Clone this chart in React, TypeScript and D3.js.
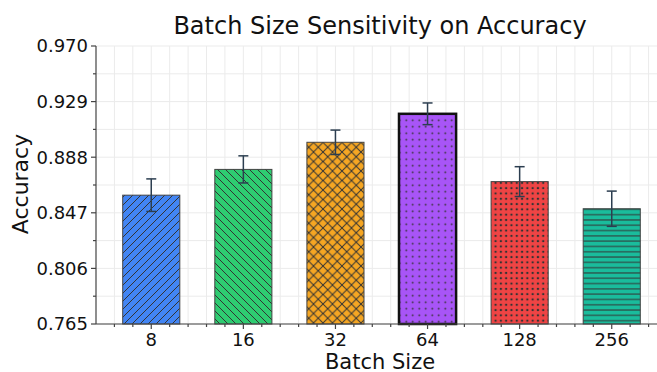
import React, { useEffect, useRef } from 'react';
import * as d3 from 'd3';

const batchSizes = ['8', '16', '32', '64', '128', '256'];
const accuracy = [0.860, 0.879, 0.899, 0.920, 0.870, 0.850];
const errors = [0.012, 0.010, 0.009, 0.008, 0.011, 0.013];
const colors = ['#4285f4', '#2ecc71', '#f5a623', '#a855f7', '#ef4444', '#1abc9c'];
const hatches = ['fwd', 'back', 'cross', 'smalldot', 'bigdot', 'horiz'];
const yTicks = [0.765, 0.806, 0.847, 0.888, 0.929, 0.970];

const W = 657;
const H = 372;
const FONT = 'DejaVu Sans, sans-serif';

const App = () => {
  const svgRef = useRef<SVGSVGElement>(null);

  useEffect(() => {
    const svg = d3.select(svgRef.current);
    svg.selectAll('*').remove();

    const left = 96, right = 667, top = 46, bottom = 324;
    const x = d3.scaleLinear().domain([-0.6, 5.6]).range([left, right]);
    const y = d3.scaleLinear().domain([0.765, 0.970]).range([bottom, top]);

    const defs = svg.append('defs');
    const ink = '#333';
    const pat = (id: string, size: number) =>
      defs.append('pattern').attr('id', id).attr('patternUnits', 'userSpaceOnUse')
        .attr('width', size).attr('height', size);

    pat('fwd', 8).call(p => {
      p.append('path').attr('d', 'M-2,2 L2,-2 M0,8 L8,0 M6,10 L10,6')
        .attr('stroke', ink).attr('stroke-width', 1);
    });
    pat('back', 8).call(p => {
      p.append('path').attr('d', 'M-2,6 L2,10 M0,0 L8,8 M6,-2 L10,2')
        .attr('stroke', ink).attr('stroke-width', 1);
    });
    pat('cross', 9.5).call(p => {
      p.append('path').attr('d', 'M0,0 L9.5,9.5 M9.5,0 L0,9.5')
        .attr('stroke', ink).attr('stroke-width', 1);
    });
    pat('smalldot', 6.5).call(p => {
      p.append('circle').attr('cx', 3.25).attr('cy', 3.25).attr('r', 0.9).attr('fill', ink);
    });
    pat('bigdot', 5.3).call(p => {
      p.append('circle').attr('cx', 2.65).attr('cy', 2.65).attr('r', 1.2).attr('fill', ink);
    });
    pat('horiz', 5.3).call(p => {
      p.append('path').attr('d', 'M0,2.65 L5.3,2.65').attr('stroke', ink).attr('stroke-width', 1);
    });

    // grid
    const grid = svg.append('g').attr('stroke', '#ebebeb').attr('stroke-width', 1);
    const xMinor = d3.range(-2, 29).map(i => i * 0.2);
    xMinor.forEach(v => {
      grid.append('line').attr('x1', x(v)).attr('x2', x(v)).attr('y1', top).attr('y2', bottom);
    });
    const yMinor = d3.range(0, 11).map(i => 0.765 + i * 0.0205);
    yMinor.forEach(v => {
      grid.append('line').attr('x1', left).attr('x2', W).attr('y1', y(v)).attr('y2', y(v));
    });

    // bars
    const bw = x(0.62) - x(0);
    accuracy.forEach((v, i) => {
      const best = i === 3;
      const g = svg.append('g');
      const bx = x(i) - bw / 2;
      g.append('rect').attr('x', bx).attr('y', y(v)).attr('width', bw)
        .attr('height', bottom - y(v)).attr('fill', colors[i]);
      g.append('rect').attr('x', bx).attr('y', y(v)).attr('width', bw)
        .attr('height', bottom - y(v)).attr('fill', `url(#${hatches[i]})`)
        .attr('stroke', best ? '#111' : '#444').attr('stroke-width', best ? 2.5 : 1);
    });

    // error bars
    const eb = svg.append('g').attr('stroke', '#2c3e50').attr('stroke-width', 1.5);
    accuracy.forEach((v, i) => {
      const cx = x(i);
      eb.append('line').attr('x1', cx).attr('x2', cx).attr('y1', y(v + errors[i])).attr('y2', y(v - errors[i]));
      [v + errors[i], v - errors[i]].forEach(e => {
        eb.append('line').attr('x1', cx - 5).attr('x2', cx + 5).attr('y1', y(e)).attr('y2', y(e));
      });
    });

    // axes
    const ax = svg.append('g').attr('stroke', '#444').attr('stroke-width', 1.2);
    ax.append('line').attr('x1', left).attr('x2', left).attr('y1', top).attr('y2', bottom);
    ax.append('line').attr('x1', left).attr('x2', W).attr('y1', bottom).attr('y2', bottom);
    yMinor.forEach((v, i) => {
      const len = i % 2 === 0 ? 5 : 3;
      ax.append('line').attr('x1', left - len).attr('x2', left).attr('y1', y(v)).attr('y2', y(v));
    });
    xMinor.forEach(v => {
      const len = Math.abs(v - Math.round(v)) < 1e-6 ? 5 : 3;
      ax.append('line').attr('x1', x(v)).attr('x2', x(v)).attr('y1', bottom).attr('y2', bottom + len);
    });

    const txt = svg.append('g').attr('font-family', FONT).attr('fill', '#111');
    yTicks.forEach(t => {
      txt.append('text').attr('x', left - 8).attr('y', y(t)).attr('dy', '0.36em')
        .attr('text-anchor', 'end').attr('font-size', 18).text(t.toFixed(3));
    });
    batchSizes.forEach((b, i) => {
      txt.append('text').attr('x', x(i)).attr('y', 346).attr('text-anchor', 'middle')
        .attr('font-size', 18).text(b);
    });
    txt.append('text').attr('x', 380).attr('y', 34).attr('text-anchor', 'middle')
      .attr('font-size', 24).text('Batch Size Sensitivity on Accuracy');
    txt.append('text').attr('x', 380).attr('y', 369).attr('text-anchor', 'middle')
      .attr('font-size', 21).text('Batch Size');
    txt.append('text').attr('transform', `translate(28,184) rotate(-90)`).attr('text-anchor', 'middle')
      .attr('font-size', 22).text('Accuracy');
  }, []);

  return <svg ref={svgRef} width={W} height={H} style={{ position: 'absolute', left: 0, top: 0 }} />;
};

export default App;
